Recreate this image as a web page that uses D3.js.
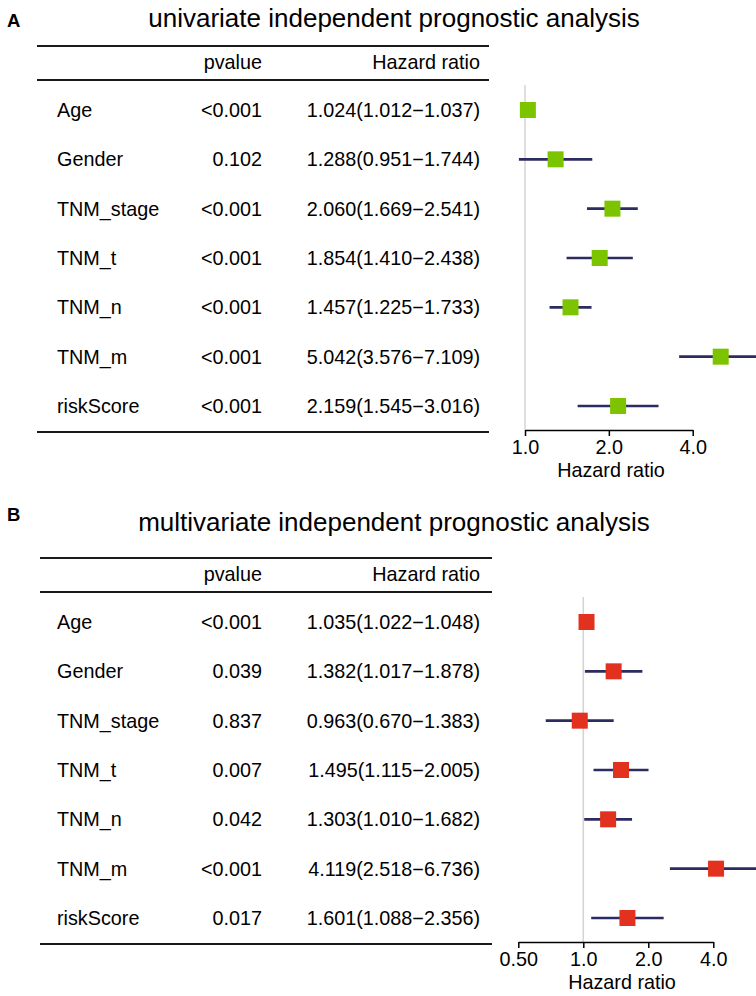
<!DOCTYPE html>
<html>
<head>
<meta charset="utf-8">
<script src="https://cdn.jsdelivr.net/npm/d3@7"></script>
<style>
  body { margin: 0; background: #fff; }
  text { font-family: "Liberation Sans", Arial, sans-serif; fill: #000; }
</style>
</head>
<body>
<div id="chart"></div>
<script>
// variables shared by both panels
const variables = ["Age", "Gender", "TNM_stage", "TNM_t", "TNM_n", "TNM_m", "riskScore"];

// univariate cox
const uniPvalue = ["<0.001", "0.102", "<0.001", "<0.001", "<0.001", "<0.001", "<0.001"];
const uniHR = [1.024, 1.288, 2.060, 1.854, 1.457, 5.042, 2.159];
const uniLow = [1.012, 0.951, 1.669, 1.410, 1.225, 3.576, 1.545];
const uniHigh = [1.037, 1.744, 2.541, 2.438, 1.733, 7.109, 3.016];
const uniTicks = [1, 2, 4];
const uniTickLabels = ["1.0", "2.0", "4.0"];

// multivariate cox
const multiPvalue = ["<0.001", "0.039", "0.837", "0.007", "0.042", "<0.001", "0.017"];
const multiHR = [1.035, 1.382, 0.963, 1.495, 1.303, 4.119, 1.601];
const multiLow = [1.022, 1.017, 0.670, 1.115, 1.010, 2.518, 1.088];
const multiHigh = [1.048, 1.878, 1.383, 2.005, 1.682, 6.736, 2.356];
const multiTicks = [0.5, 1, 2, 4];
const multiTickLabels = ["0.50", "1.0", "2.0", "4.0"];

const width = 756, height = 996;
const fs = 19.8;

const svg = d3.select("#chart").append("svg")
    .attr("width", width)
    .attr("height", height);

function drawPanel(cfg) {
    const g = svg.append("g").attr("transform", `translate(0,${cfg.top})`);

    // panel letter + title
    g.append("text")
        .attr("x", 7).attr("y", cfg.letterY)
        .attr("font-size", 18.5).attr("font-weight", "bold")
        .text(cfg.letter);
    g.append("text")
        .attr("x", 394).attr("y", cfg.titleY)
        .attr("text-anchor", "middle")
        .attr("font-size", 26)
        .text(cfg.title);

    // table rules
    const rules = [46, 80, 432];
    g.selectAll("line.rule")
        .data(rules)
        .enter().append("line")
        .attr("class", "rule")
        .attr("x1", cfg.tableLeft).attr("x2", cfg.tableLeft + 452)
        .attr("y1", d => d).attr("y2", d => d)
        .attr("stroke", "#1a1a1a").attr("stroke-width", 1.8);

    const y = d3.scalePoint()
        .domain(variables)
        .range([110, 406]);

    const rows = variables.map((v, i) => ({
        name: v, p: cfg.pvalue[i], hr: cfg.hr[i], low: cfg.low[i], high: cfg.high[i]
    }));

    // header
    g.append("text").attr("x", 262).attr("y", 62).attr("text-anchor", "end")
        .attr("dominant-baseline", "central").attr("font-size", fs).text("pvalue");
    g.append("text").attr("x", 480).attr("y", 62).attr("text-anchor", "end")
        .attr("dominant-baseline", "central").attr("font-size", fs).text("Hazard ratio");

    const row = g.selectAll("g.row")
        .data(rows)
        .enter().append("g")
        .attr("class", "row")
        .attr("transform", d => `translate(0,${y(d.name)})`);

    row.append("text").attr("x", 57).attr("dominant-baseline", "central")
        .attr("font-size", fs).text(d => d.name);
    row.append("text").attr("x", 262).attr("text-anchor", "end").attr("dominant-baseline", "central")
        .attr("font-size", fs).text(d => d.p);
    row.append("text").attr("x", 480).attr("text-anchor", "end").attr("dominant-baseline", "central")
        .attr("font-size", fs)
        .text(d => `${d.hr.toFixed(3)}(${d.low.toFixed(3)}\u2212${d.high.toFixed(3)})`);

    // forest
    const x = d3.scaleLog().base(2)
        .domain(d3.extent(cfg.ticks))
        .range(cfg.xRange);

    g.append("line")
        .attr("x1", x(1)).attr("x2", x(1))
        .attr("y1", 85).attr("y2", 430)
        .attr("stroke", "#d4d4d4").attr("stroke-width", 1.5);

    const axis = g.append("g")
        .attr("transform", "translate(0,430)")
        .call(d3.axisBottom(x)
            .tickValues(cfg.ticks)
            .tickFormat((d, i) => cfg.tickLabels[i])
            .tickSize(6)
            .tickSizeOuter(0)
            .tickPadding(4));
    axis.select(".domain").attr("stroke", "#000").attr("stroke-width", 1.5);
    axis.selectAll(".tick line").attr("stroke", "#000").attr("stroke-width", 1.5);
    axis.selectAll(".tick text")
        .attr("font-size", fs)
        .attr("font-family", "Liberation Sans, Arial, sans-serif")
        .attr("fill", "#000");

    g.append("text")
        .attr("x", cfg.axisTitleX).attr("y", 477)
        .attr("text-anchor", "middle")
        .attr("font-size", fs)
        .text("Hazard ratio");

    const marks = g.selectAll("g.mark")
        .data(rows)
        .enter().append("g")
        .attr("class", "mark");

    marks.append("line")
        .attr("x1", d => x(d.low)).attr("x2", d => x(d.high))
        .attr("y1", d => y(d.name)).attr("y2", d => y(d.name))
        .attr("stroke", "#2c2c60").attr("stroke-width", 2.7);

    const sq = 16;
    marks.append("rect")
        .attr("x", d => x(d.hr) - sq / 2)
        .attr("y", d => y(d.name) - sq / 2)
        .attr("width", sq).attr("height", sq)
        .attr("fill", cfg.color);
}

drawPanel({
    top: 0, letter: "A", letterY: 27, titleY: 27,
    title: "univariate independent prognostic analysis",
    tableLeft: 37,
    pvalue: uniPvalue, hr: uniHR, low: uniLow, high: uniHigh,
    ticks: uniTicks, tickLabels: uniTickLabels,
    xRange: [525, 692.7], axisTitleX: 611,
    color: "#7dc400"
});

drawPanel({
    top: 512, letter: "B", letterY: 9, titleY: 19,
    title: "multivariate independent prognostic analysis",
    tableLeft: 40,
    pvalue: multiPvalue, hr: multiHR, low: multiLow, high: multiHigh,
    ticks: multiTicks, tickLabels: multiTickLabels,
    xRange: [518.3, 713.3], axisTitleX: 622,
    color: "#e2321f"
});
</script>
</body>
</html>
